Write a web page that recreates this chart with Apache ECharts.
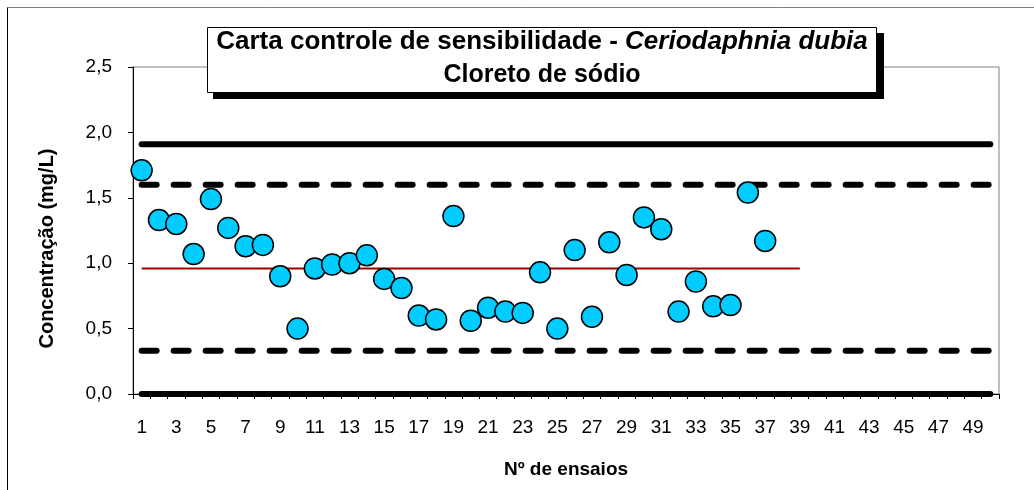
<!DOCTYPE html>
<html lang="pt">
<head>
<meta charset="UTF-8">
<title>Carta controle de sensibilidade</title>
<script src="https://cdn.jsdelivr.net/npm/echarts@6/dist/echarts.min.js"></script>
<style>
    html, body { margin: 0; padding: 0; background: #fff; }
    #chart { width: 1034px; height: 490px; }
</style>
</head>
<body>
<div id="chart"></div>
<script>
    // nº de ensaios (eixo x)
    var ensaios = ['1', '2', '3', '4', '5', '6', '7', '8', '9', '10',
        '11', '12', '13', '14', '15', '16', '17', '18', '19', '20',
        '21', '22', '23', '24', '25', '26', '27', '28', '29', '30',
        '31', '32', '33', '34', '35', '36', '37', '38', '39', '40',
        '41', '42', '43', '44', '45', '46', '47', '48', '49', '50'];
    // CE50 de cada ensaio (mg/L)
    var concentracoes = [1.71, 1.33, 1.30, 1.07, 1.49, 1.27, 1.13, 1.14, 0.90, 0.50,
        0.96, 0.99, 1.00, 1.06, 0.88, 0.81, 0.60, 0.57, 1.36, 0.56,
        0.66, 0.63, 0.62, 0.93, 0.50, 1.10, 0.59, 1.16, 0.91, 1.35,
        1.26, 0.63, 0.86, 0.67, 0.68, 1.54, 1.17];
    // limites da carta
    var limiteSup = 1.91;
    var alertaSup = 1.60;
    var media = 0.96;
    var alertaInf = 0.33;
    var limiteInf = 0.0;
    var ultimoEnsaioMedia = '39';

    var fonte = 'Liberation Sans, Arial, sans-serif';

    function linha(valor, fim, estilo) {
        return {
            type: 'line',
            data: [['1', valor], [fim, valor]],
            symbol: 'none',
            silent: true,
            clip: false,
            lineStyle: estilo,
            z: 2
        };
    }

    var grosso = { color: '#000', width: 6, cap: 'round' };
    var tracejado = { color: '#000', width: 6, cap: 'round', type: [15, 17] };

    var myChart = echarts.init(document.getElementById('chart'));
    myChart.setOption({
        animation: false,
        backgroundColor: '#fff',
        grid: {
            left: 133, right: 35, top: 67, bottom: 96,
            show: true, borderColor: '#808080', borderWidth: 1
        },
        xAxis: {
            type: 'category',
            data: ensaios,
            boundaryGap: true,
            name: 'Nº de ensaios',
            nameLocation: 'middle',
            nameGap: 66,
            nameTextStyle: { fontFamily: fonte, fontWeight: 'bold', fontSize: 19, color: '#000' },
            axisLine: { lineStyle: { color: '#000', width: 1 } },
            axisTick: { show: true, interval: 0, length: 5, lineStyle: { color: '#000' } },
            axisLabel: { interval: 1, margin: 24, fontFamily: fonte, fontSize: 19, color: '#000' },
            splitLine: { show: false }
        },
        yAxis: {
            type: 'value',
            min: 0, max: 2.5, interval: 0.5,
            name: 'Concentração (mg/L)',
            nameLocation: 'middle',
            nameGap: 76,
            nameTextStyle: {
                fontFamily: fonte, fontWeight: 'bold', fontSize: 20, color: '#000',
                padding: [0, 36, 0, 0]
            },
            axisLine: { show: true, lineStyle: { color: '#000', width: 1 } },
            axisTick: { show: true, length: 5, lineStyle: { color: '#000' } },
            axisLabel: {
                margin: 21, fontFamily: fonte, fontSize: 19, color: '#000',
                formatter: function (v) { return v.toFixed(1).replace('.', ','); }
            },
            splitLine: { show: false }
        },
        series: [
            linha(limiteSup, '50', grosso),
            linha(alertaSup, '50', tracejado),
            linha(media, ultimoEnsaioMedia, { color: '#990000', width: 2 }),
            linha(alertaInf, '50', tracejado),
            linha(limiteInf, '50', grosso),
            {
                type: 'scatter',
                data: concentracoes,
                symbol: 'circle',
                symbolSize: 21,
                itemStyle: { color: '#00CCFF', borderColor: '#000', borderWidth: 1.5, opacity: 1 },
                z: 5
            }
        ],
        graphic: [
            // moldura externa: topo cinza, lado esquerdo preto
            {
                type: 'line', z: 0, silent: true,
                shape: { x1: 7.5, y1: 7.5, x2: 1034, y2: 7.5 },
                style: { stroke: '#808080', lineWidth: 1 }
            },
            {
                type: 'line', z: 0, silent: true,
                shape: { x1: 7.5, y1: 7.5, x2: 7.5, y2: 490 },
                style: { stroke: '#000', lineWidth: 1 }
            },
            // caixa do título com sombra
            {
                type: 'rect', z: 10, silent: true,
                shape: { x: 213, y: 33, width: 671, height: 66 },
                style: { fill: '#000' }
            },
            {
                type: 'rect', z: 11, silent: true,
                shape: { x: 207.5, y: 27.5, width: 669, height: 65 },
                style: { fill: '#fff', stroke: '#000', lineWidth: 1 }
            },
            {
                type: 'text', z: 12, silent: true,
                x: 542, y: 42,
                style: {
                    text: '{n|Carta controle de sensibilidade - }{i|Ceriodaphnia dubia}',
                    align: 'center', verticalAlign: 'middle',
                    rich: {
                        n: { fontFamily: fonte, fontWeight: 'bold', fontSize: 26, fill: '#000' },
                        i: { fontFamily: fonte, fontWeight: 'bold', fontStyle: 'italic', fontSize: 26, fill: '#000' }
                    }
                }
            },
            {
                type: 'text', z: 12, silent: true,
                x: 542, y: 75,
                style: {
                    text: 'Cloreto de sódio',
                    align: 'center', verticalAlign: 'middle',
                    fontFamily: fonte, fontWeight: 'bold', fontSize: 25, fill: '#000'
                }
            }
        ]
    });
</script>
</body>
</html>
